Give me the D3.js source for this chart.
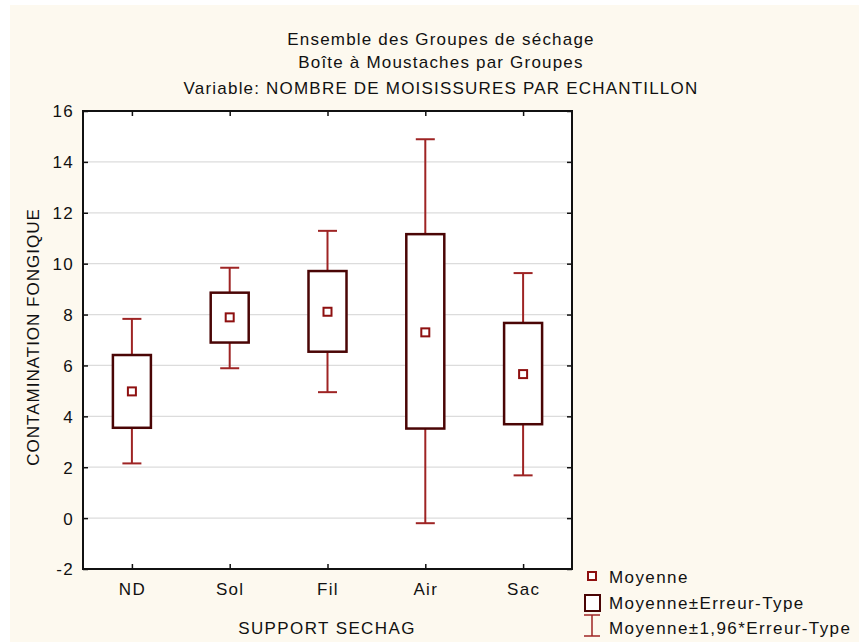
<!DOCTYPE html>
<html>
<head>
<meta charset="utf-8">
<script src="https://cdn.jsdelivr.net/npm/d3@7"></script>
<style>
body { margin: 0; background: white; }
svg { display: block; font-family: "Liberation Sans", Arial, sans-serif; }
</style>
</head>
<body>
<svg width="859" height="642"></svg>
<script>
// data
var groups = ["ND", "Sol", "Fil", "Air", "Sac"]
var means = [4.98, 7.89, 8.11, 7.30, 5.66]
var boxLow = [3.55, 6.90, 6.54, 3.52, 3.69]
var boxHigh = [6.41, 8.86, 9.71, 11.16, 7.67]
var whiskLow = [2.15, 5.89, 4.95, -0.20, 1.68]
var whiskHigh = [7.83, 9.84, 11.29, 14.89, 9.63]
var yTicks = [-2, 0, 2, 4, 6, 8, 10, 12, 14, 16]
var titles = ["Ensemble des Groupes de séchage", "Boîte à Moustaches par Groupes", "Variable: NOMBRE DE MOISISSURES PAR ECHANTILLON"]
var legendLabels = ["Moyenne", "Moyenne±Erreur-Type", "Moyenne±1,96*Erreur-Type"]

var svg = d3.select("svg")
var pLeft = 83, pRight = 572, pTop = 111, pBottom = 569
var boxColor = "#4a0505", whiskColor = "#9e2424", meanColor = "#8e1010"

svg.append("rect").attr("width", 859).attr("height", 642).attr("fill", "white")
svg.append("rect").attr("x", 10).attr("y", 5).attr("width", 849).attr("height", 637).attr("fill", "#fdf9ef")
svg.append("rect").attr("x", pLeft).attr("y", pTop).attr("width", pRight - pLeft).attr("height", pBottom - pTop).attr("fill", "white")

var x = d3.scalePoint().domain(groups).range([pLeft, pRight]).padding(0.5)
var y = d3.scaleLinear().domain([-2, 16]).range([pBottom, pTop])

// grid
svg.selectAll(".grid").data(yTicks.slice(1, -1)).enter()
    .append("line")
    .attr("x1", pLeft).attr("x2", pRight)
    .attr("y1", function (d) { return y(d) }).attr("y2", function (d) { return y(d) })
    .attr("stroke", "#dcdcdc").attr("stroke-width", 1.2)

// axes, ticks inward
var yAxisL = svg.append("g").attr("transform", "translate(" + pLeft + ",0)")
    .call(d3.axisLeft(y).tickValues(yTicks).tickSize(-5).tickPadding(9)
        .tickFormat(function (d) { return String(d) }))
var yAxisR = svg.append("g").attr("transform", "translate(" + pRight + ",0)")
    .call(d3.axisRight(y).tickValues(yTicks).tickSize(-5).tickFormat(""))
var xAxisB = svg.append("g").attr("transform", "translate(0," + pBottom + ")")
    .call(d3.axisBottom(x).tickSize(-5).tickPadding(14))
var xAxisT = svg.append("g").attr("transform", "translate(0," + pTop + ")")
    .call(d3.axisTop(x).tickSize(-5).tickFormat(""))

;[yAxisL, yAxisR, xAxisB, xAxisT].forEach(function (a) {
    a.select(".domain").remove()
    a.selectAll("line").attr("stroke", "#111").attr("stroke-width", 1.5)
    a.selectAll("text").attr("font-size", 17).attr("letter-spacing", 1.3).attr("fill", "#111")
        .attr("font-family", "Liberation Sans, Arial, sans-serif")
})
yAxisL.selectAll("text").attr("dy", "0.35em")

// frame
svg.append("rect").attr("x", pLeft).attr("y", pTop).attr("width", pRight - pLeft).attr("height", pBottom - pTop)
    .attr("fill", "none").attr("stroke", "#111").attr("stroke-width", 2)

// whiskers and boxes
var capW = 19, boxW = 38
var g = svg.selectAll(".grp").data(groups).enter().append("g")
g.append("line")
    .attr("x1", function (d) { return x(d) }).attr("x2", function (d) { return x(d) })
    .attr("y1", function (d, i) { return y(whiskLow[i]) }).attr("y2", function (d, i) { return y(whiskHigh[i]) })
    .attr("stroke", whiskColor).attr("stroke-width", 2)
g.append("line")
    .attr("x1", function (d) { return x(d) - capW / 2 }).attr("x2", function (d) { return x(d) + capW / 2 })
    .attr("y1", function (d, i) { return y(whiskHigh[i]) }).attr("y2", function (d, i) { return y(whiskHigh[i]) })
    .attr("stroke", whiskColor).attr("stroke-width", 2)
g.append("line")
    .attr("x1", function (d) { return x(d) - capW / 2 }).attr("x2", function (d) { return x(d) + capW / 2 })
    .attr("y1", function (d, i) { return y(whiskLow[i]) }).attr("y2", function (d, i) { return y(whiskLow[i]) })
    .attr("stroke", whiskColor).attr("stroke-width", 2)
g.append("rect")
    .attr("x", function (d) { return x(d) - boxW / 2 }).attr("width", boxW)
    .attr("y", function (d, i) { return y(boxHigh[i]) })
    .attr("height", function (d, i) { return y(boxLow[i]) - y(boxHigh[i]) })
    .attr("fill", "white").attr("stroke", boxColor).attr("stroke-width", 2.5)
g.append("rect")
    .attr("x", function (d) { return x(d) - 4 }).attr("width", 8)
    .attr("y", function (d, i) { return y(means[i]) - 4 }).attr("height", 8)
    .attr("fill", "white").attr("stroke", meanColor).attr("stroke-width", 2)

// titles, centred on the whole graph
var titleY = [45, 68, 94]
svg.selectAll(".title").data(titles).enter().append("text")
    .attr("x", 441).attr("y", function (d, i) { return titleY[i] })
    .attr("text-anchor", "middle").attr("font-size", 17).attr("letter-spacing", 1.2).attr("fill", "#111")
    .text(function (d) { return d })

svg.append("text").attr("x", 327).attr("y", 634).attr("text-anchor", "middle")
    .attr("font-size", 17).attr("letter-spacing", 1.4).attr("fill", "#111").text("SUPPORT SECHAG")
svg.append("text").attr("transform", "translate(39,337) rotate(-90)").attr("text-anchor", "middle")
    .attr("font-size", 17).attr("letter-spacing", 1).attr("fill", "#111").text("CONTAMINATION FONGIQUE")

// legend
var leg = svg.append("g")
leg.append("rect").attr("x", 588).attr("y", 572).attr("width", 8).attr("height", 8)
    .attr("fill", "white").attr("stroke", meanColor).attr("stroke-width", 2)
leg.append("rect").attr("x", 585).attr("y", 595).attr("width", 15).attr("height", 16)
    .attr("fill", "white").attr("stroke", boxColor).attr("stroke-width", 2)
leg.append("line").attr("x1", 592).attr("x2", 592).attr("y1", 615).attr("y2", 636).attr("stroke", whiskColor).attr("stroke-width", 1.5)
leg.append("line").attr("x1", 584).attr("x2", 600).attr("y1", 615).attr("y2", 615).attr("stroke", whiskColor).attr("stroke-width", 1.5)
leg.append("line").attr("x1", 584).attr("x2", 600).attr("y1", 636).attr("y2", 636).attr("stroke", whiskColor).attr("stroke-width", 1.5)
var legY = [583, 609, 634]
leg.selectAll("text").data(legendLabels).enter().append("text")
    .attr("x", 609).attr("y", function (d, i) { return legY[i] })
    .attr("font-size", 17).attr("letter-spacing", 1.4).attr("fill", "#111").text(function (d) { return d })
</script>
</body>
</html>
